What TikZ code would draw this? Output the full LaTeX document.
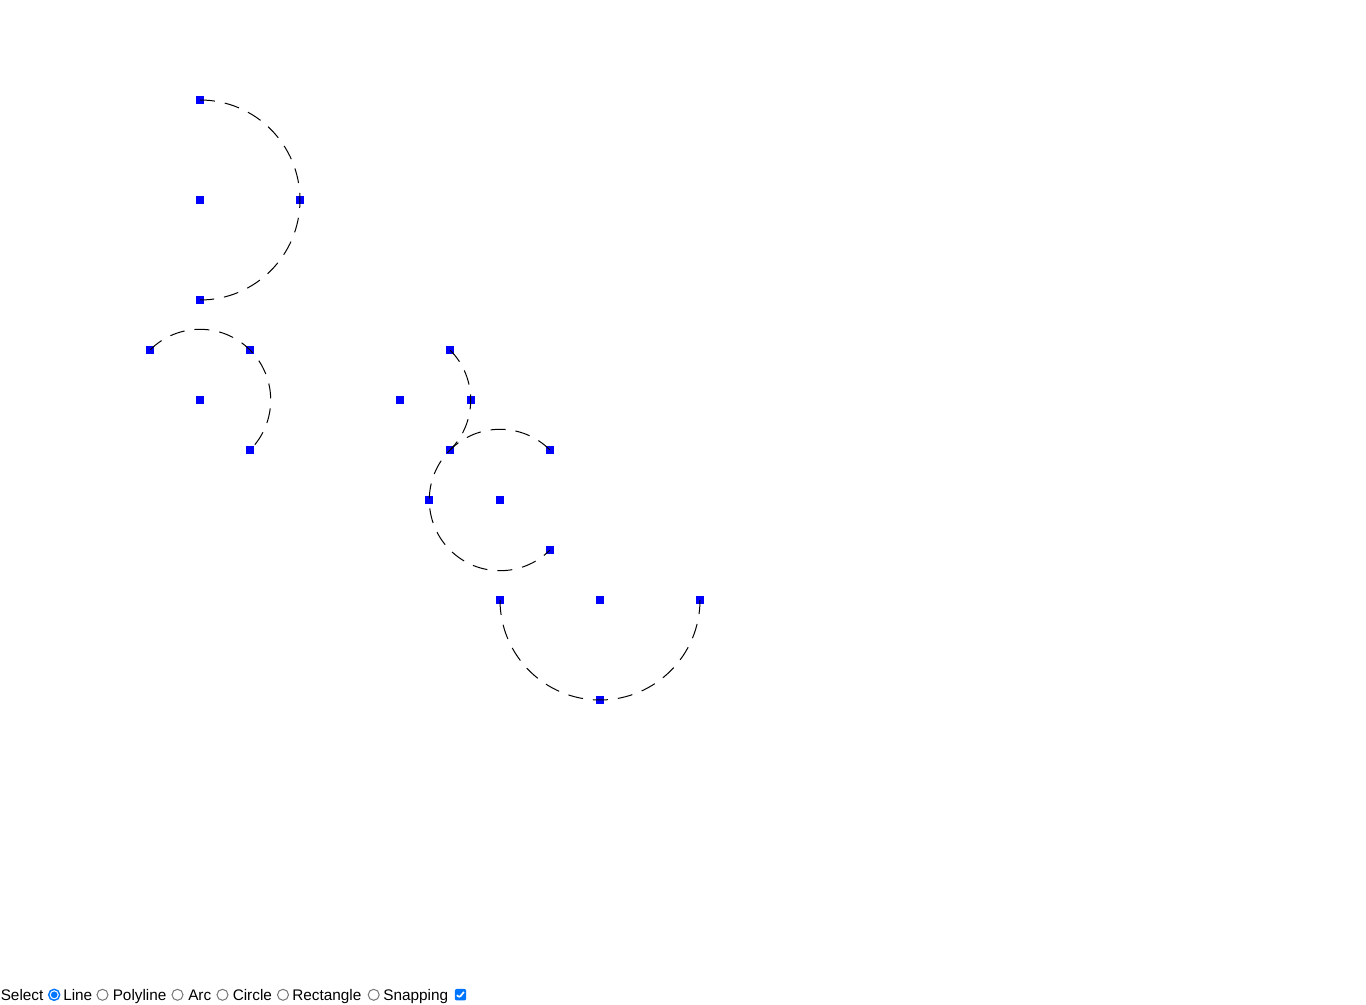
\documentclass[tikz,border=0pt]{standalone}
\usepackage{fontspec}
\setmainfont{Liberation Sans}
\definecolor{radioblue}{HTML}{0075FF}
\definecolor{radiogrey}{HTML}{767676}

\begin{document}
\begin{tikzpicture}[x=0.75pt, y=-0.75pt, handle/.style={shape=rectangle, fill=blue, inner sep=0, minimum size=6pt}, arcline/.style={draw=black, line width=0.75pt, dash pattern=on 11.25pt off 7.5pt}, radio/.style={shape=circle, draw=radiogrey, line width=0.75pt, fill=white, inner sep=0, minimum size=8.25pt}, radio on/.style={radio, draw=radioblue, line width=1.1pt, path picture={\fill[radioblue] (path picture bounding box.center) circle[radius=2.5pt];}}, tick box/.style={shape=rectangle, rounded corners=1.5pt, fill=radioblue, inner sep=0, minimum size=8.6pt, path picture={\draw[white, line width=1.3pt] ([shift={(-3.5,0.5)}]path picture bounding box.center) -- ++(2.3,2.4) -- ++(4.6,-5.6);}}, tooltext/.style={anchor=base west, inner sep=0, font=\fontsize{11.5}{14}\selectfont}]
	\useasboundingbox (0,0) rectangle (1366,1005);
	\node[handle] (arc1 start) at (200,100) {};
	\node[handle] (arc1 centre) at (200,200) {};
	\node[handle] (arc1 mid) at (300,200) {};
	\node[handle] (arc1 end) at (200,300) {};
	\node[handle] (arc2 start) at (150,350) {};
	\node[handle] (arc2 centre) at (200,400) {};
	\node[handle] (arc2 mid) at (250,350) {};
	\node[handle] (arc2 end) at (250,450) {};
	\node[handle] (arc3 start) at (450,350) {};
	\node[handle] (arc3 centre) at (400,400) {};
	\node[handle] (arc3 mid) at (470.71,400) {};
	\node[handle] (arc3 end) at (450,450) {};
	\node[handle] (arc4 start) at (550,450) {};
	\node[handle] (arc4 centre) at (500,500) {};
	\node[handle] (arc4 mid) at (429.29,500) {};
	\node[handle] (arc4 end) at (550,550) {};
	\node[handle] (arc5 start) at (500,600) {};
	\node[handle] (arc5 centre) at (600,600) {};
	\node[handle] (arc5 mid) at (600,700) {};
	\node[handle] (arc5 end) at (700,600) {};
	\draw[arcline] (arc1 start.center) arc[start angle=-90, end angle=90, radius=100];
	\draw[arcline] (arc2 start.center) arc[start angle=-135, end angle=45, radius=70.71];
	\draw[arcline] (arc3 start.center) arc[start angle=-45, end angle=45, radius=70.71];
	\draw[arcline] (arc4 start.center) arc[start angle=-45, end angle=-315, radius=70.71];
	\draw[arcline] (arc5 start.center) arc[start angle=180, end angle=0, radius=100];
	\node[tooltext] (select) at (0.5,1000.5) {Select};
	\node[radio on] (line radio) at (54.2,994.8) {};
	\node[tooltext] (line) at (63,1000.5) {Line};
	\node[radio] (polyline radio) at (102.5,994.8) {};
	\node[tooltext] (polyline) at (112.5,1000.5) {Polyline};
	\node[radio] (arc radio) at (177.5,994.8) {};
	\node[tooltext] (arc) at (188,1000.5) {Arc};
	\node[radio] (circle radio) at (222.5,994.8) {};
	\node[tooltext] (circle) at (232.5,1000.5) {Circle};
	\node[radio] (rectangle radio) at (283,994.8) {};
	\node[tooltext] (rectangle) at (292,1000.5) {Rectangle};
	\node[radio] (snapping radio) at (373.7,994.8) {};
	\node[tooltext] (snapping) at (383,1000.5) {Snapping};
	\node[tick box] (snapping box) at (460.5,994.7) {};
\end{tikzpicture}
\end{document}
